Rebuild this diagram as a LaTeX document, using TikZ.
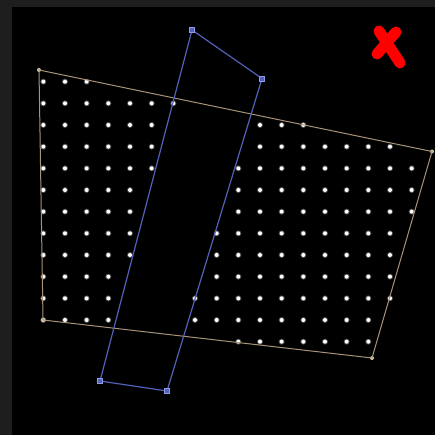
\documentclass[tikz,border=0pt]{standalone}
\usepackage{xcolor}
\usepackage{tikz}
\usetikzlibrary{positioning}
\definecolor{frame}{HTML}{1E1E1E}
\definecolor{tan}{HTML}{A8937A}
\definecolor{lighttan}{HTML}{D8C8AA}
\definecolor{blueline}{HTML}{5361B8}
\definecolor{lightblue}{HTML}{8F9BE8}

\begin{document}
\begin{tikzpicture}[x=1pt, y=-1pt,
  tanline/.style={draw=tan, line width=1pt},
  blueedge/.style={draw=blueline, line width=1.2pt},
  tancorner/.style={circle, fill=lighttan, inner sep=0pt, minimum size=4pt},
  bluecorner/.style={rectangle, draw=lightblue, fill=blueline, line width=0.8pt, inner sep=0pt, minimum size=5pt},
  dot/.style={fill=white},
  halo/.style={fill=white!30!black},
  redx/.style={draw=red, line width=11pt, line cap=round}
]
  % background and frame
  \fill[black] (0,0) rectangle (435,435);
  \fill[frame] (0,0) rectangle (435,7);
  \fill[frame] (0,0) rectangle (12,435);
  \useasboundingbox (0,0) rectangle (435,435);

  % grid points
  \foreach \k/\a/\b in {0/0/2, 1/0/6, 2/0/5, 2/10/12, 3/0/5, 3/10/16,
                        4/0/5, 4/9/17, 5/0/4, 5/9/17, 6/0/4, 6/9/17,
                        7/0/4, 7/8/16, 8/0/4, 8/8/16, 9/0/3, 9/8/16,
                        10/0/3, 10/7/16, 11/0/3, 11/7/15, 12/9/15}
    \foreach \j in {\a,...,\b}{
      \fill[halo] (43.33+21.667*\j, 81.67+21.667*\k) circle (3pt);
      \fill[dot] (43.33+21.667*\j, 81.67+21.667*\k) circle (2pt);
    }

  % target quad
  \node[tancorner] (t1) at (39,70) {};
  \node[tancorner] (t2) at (432,151.5) {};
  \node[tancorner] (t3) at (372,358) {};
  \node[tancorner] (t4) at (43,320) {};
  \draw[tanline] (t1.center) -- (t2.center) -- (t3.center) -- (t4.center) -- cycle;

  % source quad
  \coordinate (b1) at (192,30);
  \coordinate (b2) at (262,78.5);
  \coordinate (b3) at (167,391);
  \coordinate (b4) at (100,381);
  \draw[blueedge] (b1) -- (b2) -- (b3) -- (b4) -- cycle;
  \foreach \c in {b1,b2,b3,b4}
    \node[bluecorner] at (\c) {};

  % cross
  \coordinate (x1) at (379,31);
  \coordinate (x2) at (400,63);
  \coordinate (x3) at (396,32);
  \coordinate (x4) at (377,54);
  \draw[redx] (x1) -- (x2);
  \draw[redx] (x3) -- (x4);
\end{tikzpicture}
\end{document}
